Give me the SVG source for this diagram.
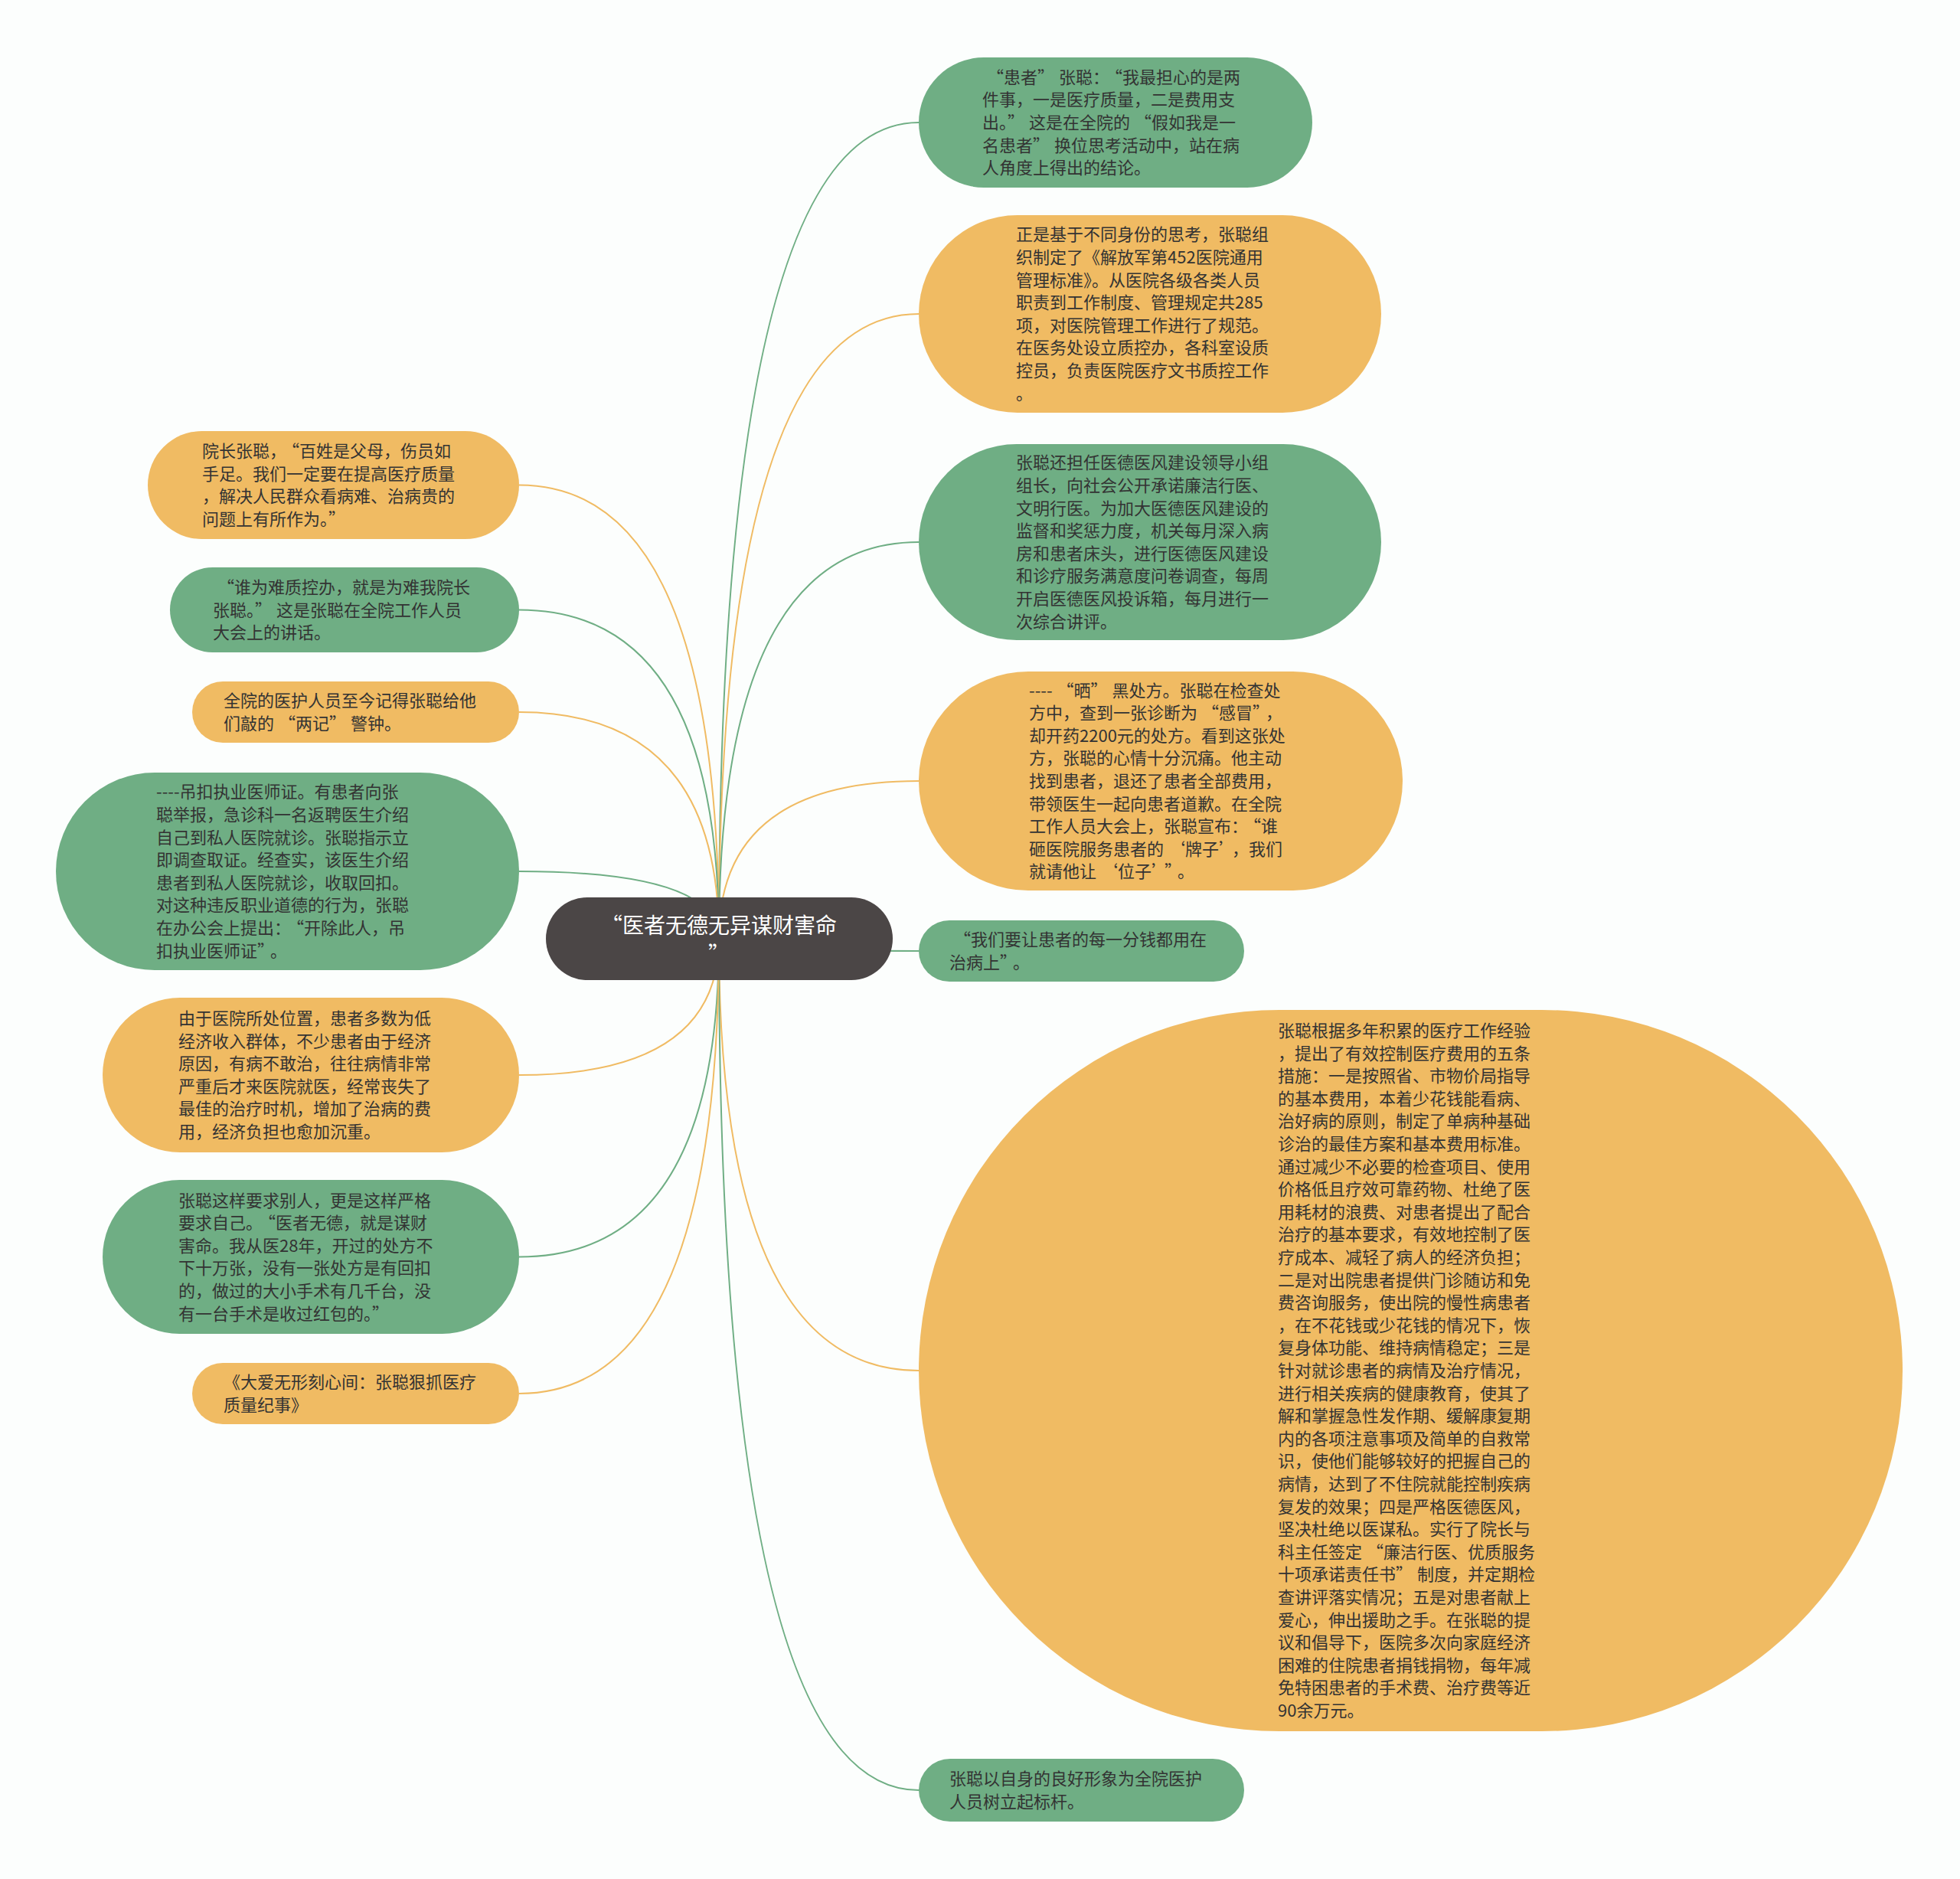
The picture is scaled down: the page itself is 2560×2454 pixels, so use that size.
<svg xmlns="http://www.w3.org/2000/svg" width="2560" height="2454" viewBox="0 0 2560 2454">
<style>
.g{fill:#6fae84}
.o{fill:#f0bb63}
.t{font-family:"Noto Sans CJK SC","Noto Sans",sans-serif;font-size:22px;fill:#333333}
.rt{font-family:"Noto Sans CJK SC","Noto Sans",sans-serif;font-size:28px;fill:#ffffff}
.qc{letter-spacing:6px}
.c{fill:none;stroke-width:2}
.cg{stroke:#6fae84}
.co{stroke:#f0bb63}
</style>
<rect x="0" y="0" width="2560" height="2454" fill="#fcfefd"/>
<g id="connectors">
<path class="c cg" d="M939,1226 Q939,160 1200,160"/>
<path class="c co" d="M939,1226 Q939,410 1200,410"/>
<path class="c cg" d="M939,1226 Q939,708 1200,708"/>
<path class="c co" d="M939,1226 Q939,1020 1200,1020"/>
<path class="c cg" d="M939,1226 Q939,1242 1200,1242"/>
<path class="c co" d="M939,1226 Q939,1790 1200,1790"/>
<path class="c cg" d="M939,1226 Q939,2338 1200,2338"/>
<path class="c co" d="M939,1226 Q939,633.5 678,633.5"/>
<path class="c cg" d="M939,1226 Q939,796.5 678,796.5"/>
<path class="c co" d="M939,1226 Q939,930 678,930"/>
<path class="c cg" d="M939,1226 Q939,1138 678,1138"/>
<path class="c co" d="M939,1226 Q939,1404 678,1404"/>
<path class="c cg" d="M939,1226 Q939,1641.5 678,1641.5"/>
<path class="c co" d="M939,1226 Q939,1820 678,1820"/>
</g>
<g id="root">
<rect x="713" y="1172" width="453" height="108" rx="54" fill="#4b4646"/>
<text class="rt" text-anchor="middle"><tspan x="939" y="1219">“医者无德无异谋财害命</tspan><tspan x="939" y="1257">”</tspan></text>
</g>
<g id="r1">
<rect class="g" x="1200" y="75" width="514" height="170" rx="85"/>
<text class="t"><tspan x="1283" y="108.8"><tspan dx="6">“</tspan>患者<tspan class="qc">”</tspan>张聪：<tspan dx="6">“</tspan>我最担心的是两</tspan><tspan x="1283" dy="29.6">件事，一是医疗质量，二是费用支</tspan><tspan x="1283" dy="29.6">出。<tspan class="qc">”</tspan>这是在全院的<tspan dx="6">“</tspan>假如我是一</tspan><tspan x="1283" dy="29.6">名患者<tspan class="qc">”</tspan>换位思考活动中，站在病</tspan><tspan x="1283" dy="29.6">人角度上得出的结论。</tspan></text>
</g>
<g id="r2">
<rect class="o" x="1200" y="281" width="604" height="258" rx="129"/>
<text class="t"><tspan x="1327" y="314.4">正是基于不同身份的思考，张聪组</tspan><tspan x="1327" dy="29.6">织制定了《解放军第452医院通用</tspan><tspan x="1327" dy="29.6">管理标准》。从医院各级各类人员</tspan><tspan x="1327" dy="29.6">职责到工作制度、管理规定共285</tspan><tspan x="1327" dy="29.6">项，对医院管理工作进行了规范。</tspan><tspan x="1327" dy="29.6">在医务处设立质控办，各科室设质</tspan><tspan x="1327" dy="29.6">控员，负责医院医疗文书质控工作</tspan><tspan x="1327" dy="29.6">。</tspan></text>
</g>
<g id="r3">
<rect class="g" x="1200" y="580" width="604" height="256" rx="128"/>
<text class="t"><tspan x="1327" y="612.4">张聪还担任医德医风建设领导小组</tspan><tspan x="1327" dy="29.6">组长，向社会公开承诺廉洁行医、</tspan><tspan x="1327" dy="29.6">文明行医。为加大医德医风建设的</tspan><tspan x="1327" dy="29.6">监督和奖惩力度，机关每月深入病</tspan><tspan x="1327" dy="29.6">房和患者床头，进行医德医风建设</tspan><tspan x="1327" dy="29.6">和诊疗服务满意度问卷调查，每周</tspan><tspan x="1327" dy="29.6">开启医德医风投诉箱，每月进行一</tspan><tspan x="1327" dy="29.6">次综合讲评。</tspan></text>
</g>
<g id="r4">
<rect class="o" x="1200" y="877" width="632" height="286" rx="143"/>
<text class="t"><tspan x="1344" y="909.6">----<tspan dx="6">“</tspan>晒<tspan class="qc">”</tspan>黑处方。张聪在检查处</tspan><tspan x="1344" dy="29.6">方中，查到一张诊断为<tspan dx="6">“</tspan>感冒<tspan class="qc">”</tspan>，</tspan><tspan x="1344" dy="29.6">却开药2200元的处方。看到这张处</tspan><tspan x="1344" dy="29.6">方，张聪的心情十分沉痛。他主动</tspan><tspan x="1344" dy="29.6">找到患者，退还了患者全部费用，</tspan><tspan x="1344" dy="29.6">带领医生一起向患者道歉。在全院</tspan><tspan x="1344" dy="29.6">工作人员大会上，张聪宣布：<tspan dx="6">“</tspan>谁</tspan><tspan x="1344" dy="29.6">砸医院服务患者的<tspan dx="6">‘</tspan>牌子<tspan class="qc">’</tspan>，我们</tspan><tspan x="1344" dy="29.6">就请他让<tspan dx="6">‘</tspan>位子<tspan class="qc">’”</tspan>。</tspan></text>
</g>
<g id="r5">
<rect class="g" x="1200" y="1202" width="425" height="80" rx="40"/>
<text class="t"><tspan x="1240" y="1235.2"><tspan dx="6">“</tspan>我们要让患者的每一分钱都用在</tspan><tspan x="1240" dy="29.6">治病上<tspan class="qc">”</tspan>。</tspan></text>
</g>
<g id="r6">
<rect class="o" x="1200" y="1319" width="1285" height="942" rx="471"/>
<text class="t"><tspan x="1669" y="1354">张聪根据多年积累的医疗工作经验</tspan><tspan x="1669" dy="29.6">，提出了有效控制医疗费用的五条</tspan><tspan x="1669" dy="29.6">措施：一是按照省、市物价局指导</tspan><tspan x="1669" dy="29.6">的基本费用，本着少花钱能看病、</tspan><tspan x="1669" dy="29.6">治好病的原则，制定了单病种基础</tspan><tspan x="1669" dy="29.6">诊治的最佳方案和基本费用标准。</tspan><tspan x="1669" dy="29.6">通过减少不必要的检查项目、使用</tspan><tspan x="1669" dy="29.6">价格低且疗效可靠药物、杜绝了医</tspan><tspan x="1669" dy="29.6">用耗材的浪费、对患者提出了配合</tspan><tspan x="1669" dy="29.6">治疗的基本要求，有效地控制了医</tspan><tspan x="1669" dy="29.6">疗成本、减轻了病人的经济负担；</tspan><tspan x="1669" dy="29.6">二是对出院患者提供门诊随访和免</tspan><tspan x="1669" dy="29.6">费咨询服务，使出院的慢性病患者</tspan><tspan x="1669" dy="29.6">，在不花钱或少花钱的情况下，恢</tspan><tspan x="1669" dy="29.6">复身体功能、维持病情稳定；三是</tspan><tspan x="1669" dy="29.6">针对就诊患者的病情及治疗情况，</tspan><tspan x="1669" dy="29.6">进行相关疾病的健康教育，使其了</tspan><tspan x="1669" dy="29.6">解和掌握急性发作期、缓解康复期</tspan><tspan x="1669" dy="29.6">内的各项注意事项及简单的自救常</tspan><tspan x="1669" dy="29.6">识，使他们能够较好的把握自己的</tspan><tspan x="1669" dy="29.6">病情，达到了不住院就能控制疾病</tspan><tspan x="1669" dy="29.6">复发的效果；四是严格医德医风，</tspan><tspan x="1669" dy="29.6">坚决杜绝以医谋私。实行了院长与</tspan><tspan x="1669" dy="29.6">科主任签定<tspan dx="6">“</tspan>廉洁行医、优质服务</tspan><tspan x="1669" dy="29.6">十项承诺责任书<tspan class="qc">”</tspan>制度，并定期检</tspan><tspan x="1669" dy="29.6">查讲评落实情况；五是对患者献上</tspan><tspan x="1669" dy="29.6">爱心，伸出援助之手。在张聪的提</tspan><tspan x="1669" dy="29.6">议和倡导下，医院多次向家庭经济</tspan><tspan x="1669" dy="29.6">困难的住院患者捐钱捐物，每年减</tspan><tspan x="1669" dy="29.6">免特困患者的手术费、治疗费等近</tspan><tspan x="1669" dy="29.6">90余万元。</tspan></text>
</g>
<g id="r7">
<rect class="g" x="1200" y="2297" width="425" height="82" rx="41"/>
<text class="t"><tspan x="1240" y="2331.2">张聪以自身的良好形象为全院医护</tspan><tspan x="1240" dy="29.6">人员树立起标杆。</tspan></text>
</g>
<g id="l1">
<rect class="o" x="193" y="563" width="485" height="141" rx="70.5"/>
<text class="t"><tspan x="264" y="597.1">院长张聪，<tspan dx="6">“</tspan>百姓是父母，伤员如</tspan><tspan x="264" dy="29.6">手足。我们一定要在提高医疗质量</tspan><tspan x="264" dy="29.6">，解决人民群众看病难、治病贵的</tspan><tspan x="264" dy="29.6">问题上有所作为。<tspan class="qc">”</tspan></tspan></text>
</g>
<g id="l2">
<rect class="g" x="222" y="741" width="456" height="111" rx="55.5"/>
<text class="t"><tspan x="278" y="774.9"><tspan dx="6">“</tspan>谁为难质控办，就是为难我院长</tspan><tspan x="278" dy="29.6">张聪。<tspan class="qc">”</tspan>这是张聪在全院工作人员</tspan><tspan x="278" dy="29.6">大会上的讲话。</tspan></text>
</g>
<g id="l3">
<rect class="o" x="251" y="890" width="427" height="80" rx="40"/>
<text class="t"><tspan x="292" y="923.2">全院的医护人员至今记得张聪给他</tspan><tspan x="292" dy="29.6">们敲的<tspan dx="6">“</tspan>两记<tspan class="qc">”</tspan>警钟。</tspan></text>
</g>
<g id="l4">
<rect class="g" x="73" y="1009" width="605" height="258" rx="129"/>
<text class="t"><tspan x="204" y="1042.4">----吊扣执业医师证。有患者向张</tspan><tspan x="204" dy="29.6">聪举报，急诊科一名返聘医生介绍</tspan><tspan x="204" dy="29.6">自己到私人医院就诊。张聪指示立</tspan><tspan x="204" dy="29.6">即调查取证。经查实，该医生介绍</tspan><tspan x="204" dy="29.6">患者到私人医院就诊，收取回扣。</tspan><tspan x="204" dy="29.6">对这种违反职业道德的行为，张聪</tspan><tspan x="204" dy="29.6">在办公会上提出：<tspan dx="6">“</tspan>开除此人，吊</tspan><tspan x="204" dy="29.6">扣执业医师证<tspan class="qc">”</tspan>。</tspan></text>
</g>
<g id="l5">
<rect class="o" x="134" y="1303" width="544" height="202" rx="101"/>
<text class="t"><tspan x="233" y="1338">由于医院所处位置，患者多数为低</tspan><tspan x="233" dy="29.6">经济收入群体，不少患者由于经济</tspan><tspan x="233" dy="29.6">原因，有病不敢治，往往病情非常</tspan><tspan x="233" dy="29.6">严重后才来医院就医，经常丧失了</tspan><tspan x="233" dy="29.6">最佳的治疗时机，增加了治病的费</tspan><tspan x="233" dy="29.6">用，经济负担也愈加沉重。</tspan></text>
</g>
<g id="l6">
<rect class="g" x="134" y="1541" width="544" height="201" rx="100.5"/>
<text class="t"><tspan x="233" y="1575.5">张聪这样要求别人，更是这样严格</tspan><tspan x="233" dy="29.6">要求自己。<tspan dx="6">“</tspan>医者无德，就是谋财</tspan><tspan x="233" dy="29.6">害命。我从医28年，开过的处方不</tspan><tspan x="233" dy="29.6">下十万张，没有一张处方是有回扣</tspan><tspan x="233" dy="29.6">的，做过的大小手术有几千台，没</tspan><tspan x="233" dy="29.6">有一台手术是收过红包的。<tspan class="qc">”</tspan></tspan></text>
</g>
<g id="l7">
<rect class="o" x="251" y="1780" width="427" height="80" rx="40"/>
<text class="t"><tspan x="292" y="1813.2">《大爱无形刻心间：张聪狠抓医疗</tspan><tspan x="292" dy="29.6">质量纪事》</tspan></text>
</g>
</svg>
